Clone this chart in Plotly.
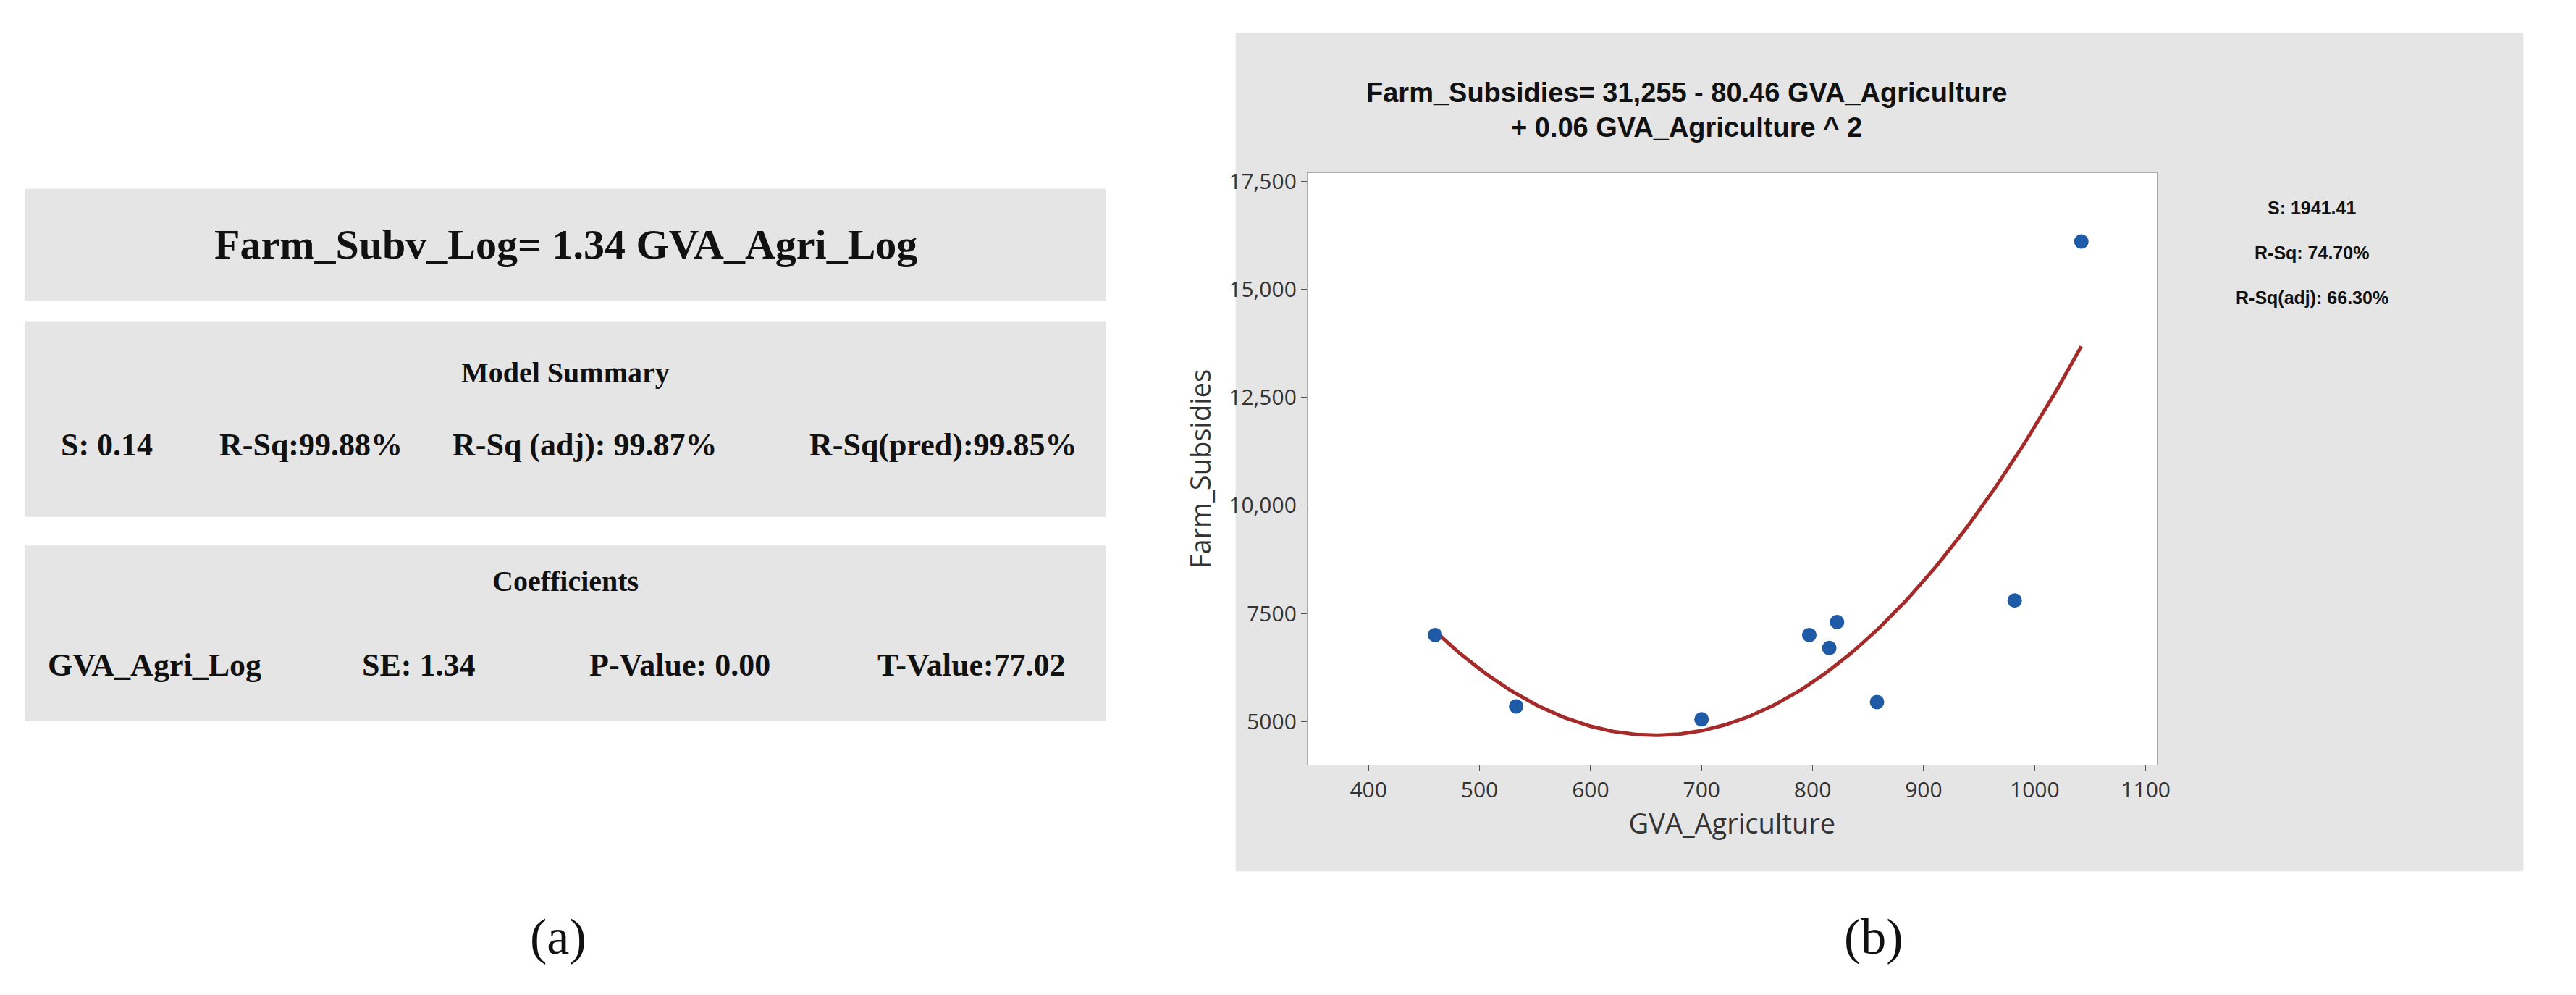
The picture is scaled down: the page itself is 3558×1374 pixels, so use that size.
import numpy as np
import plotly.graph_objects as go

gva = [460, 533, 700, 797, 815, 822, 858, 982, 1042]
subsidies = [7000, 5350, 5050, 7000, 6700, 7300, 5450, 7800, 16100]
x_ticks = [400, 500, 600, 700, 800, 900, 1000, 1100]
y_ticks = [5000, 7500, 10000, 12500, 15000, 17500]
y_ticktext = ["5000", "7500", "10,000", "12,500", "15,000", "17,500"]

coef = np.polyfit(gva, subsidies, 2)
xf = np.linspace(min(gva), max(gva), 200)
yf = np.polyval(coef, xf)

fig = go.Figure()
fig.add_trace(go.Scatter(x=xf, y=yf, mode="lines", line=dict(color="#a52a2a", width=5), showlegend=False))
fig.add_trace(go.Scatter(x=gva, y=subsidies, mode="markers",
                         marker=dict(color="#1f5aa6", size=20), showlegend=False))

shapes = []
shapes.append(dict(type="rect", xref="paper", yref="paper", x0=0.480, x1=0.9826, y0=0.131, y1=0.980,
                   fillcolor="#e5e5e5", line=dict(width=0), layer="below"))
shapes.append(dict(type="rect", xref="paper", yref="paper", x0=0.508, x1=0.8395, y0=0.239, y1=0.838,
                   fillcolor="white", line=dict(width=0), layer="below"))
for y0, y1 in [(0.709, 0.822), (0.490, 0.688), (0.283, 0.461)]:
    shapes.append(dict(type="rect", xref="paper", yref="paper", x0=0.0076, x1=0.4295, y0=y0, y1=y1,
                       fillcolor="#e5e5e5", line=dict(width=0), layer="below"))

serif = "Liberation Serif"
sans = "Liberation Sans"
ann = []
def a(text, x, y, size, fam, color="#111", bold=True):
    ann.append(dict(text=f"<b>{text}</b>" if bold else text, x=x, y=y, xref="paper", yref="paper",
                    showarrow=False, font=dict(size=size, family=fam, color=color),
                    xanchor="center", yanchor="middle"))

a("Farm_Subv_Log= 1.34 GVA_Agri_Log", 0.2185, 0.766, 58, serif)
a("Model Summary", 0.2185, 0.636, 40, serif)
for t, x in [("S: 0.14", 0.0395), ("R-Sq:99.88%", 0.119), ("R-Sq (adj): 99.87%", 0.226), ("R-Sq(pred):99.85%", 0.366)]:
    a(t, x, 0.563, 44, serif)
a("Coefficients", 0.2185, 0.425, 40, serif)
for t, x in [("GVA_Agri_Log", 0.058), ("SE: 1.34", 0.161), ("P-Value: 0.00", 0.263), ("T-Value:77.02", 0.377)]:
    a(t, x, 0.340, 44, serif)
a("(a)", 0.2156, 0.065, 70, serif, bold=False)
a("(b)", 0.729, 0.065, 70, serif, bold=False)
a("Farm_Subsidies= 31,255 - 80.46 GVA_Agriculture", 0.656, 0.919, 38, sans)
a("+ 0.06 GVA_Agriculture ^ 2", 0.656, 0.884, 38, sans)
for t, y in [("S: 1941.41", 0.803), ("R-Sq: 74.70%", 0.757), ("R-Sq(adj): 66.30%", 0.712)]:
    a(t, 0.900, y, 25, sans)

fig.update_layout(
    width=3558, height=1374, paper_bgcolor="white", plot_bgcolor="white",
    margin=dict(l=0, r=0, t=0, b=0), shapes=shapes, annotations=ann,
    xaxis=dict(domain=[0.508, 0.8395], range=[345, 1110], tickvals=x_ticks,
               ticks="outside", ticklen=8, tickcolor="#555", showgrid=False, zeroline=False,
               showline=True, linecolor="#aaa", mirror=True,
               tickfont=dict(size=30, family="Open Sans", color="#333"),
               title=dict(text="GVA_Agriculture", font=dict(size=38, family="Open Sans", color="#333"), standoff=10)),
    yaxis=dict(domain=[0.239, 0.838], range=[4000, 17685], tickvals=y_ticks, ticktext=y_ticktext,
               ticks="outside", ticklen=8, tickcolor="#555", showgrid=False, zeroline=False,
               showline=True, linecolor="#aaa", mirror=True,
               tickfont=dict(size=30, family="Open Sans", color="#333"),
               title=dict(text="Farm_Subsidies", font=dict(size=38, family="Open Sans", color="#333"), standoff=12)),
)
fig.write_html("out.html")
